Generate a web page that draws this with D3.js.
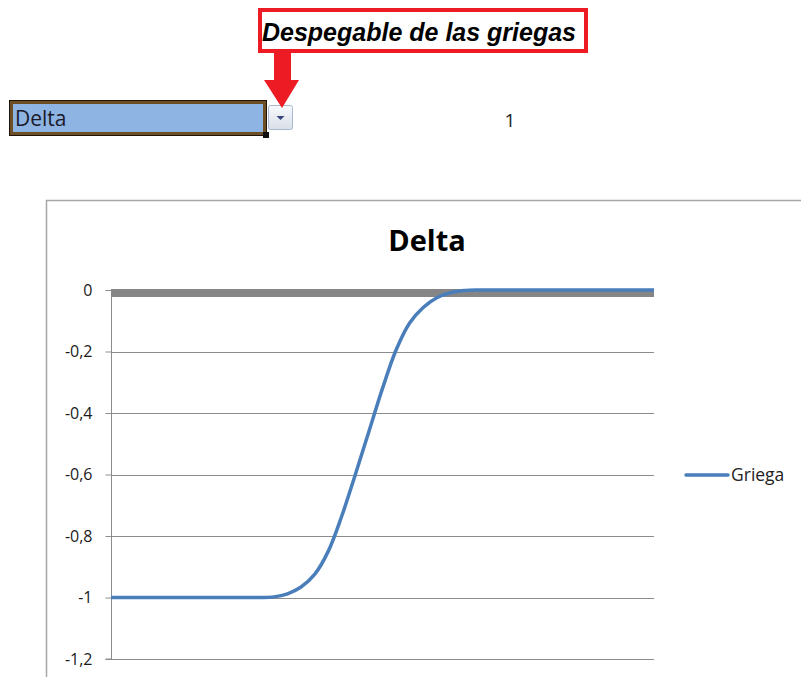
<!DOCTYPE html>
<html>
<head>
<meta charset="utf-8">
<script src="https://cdn.jsdelivr.net/npm/d3@7"></script>
<style>
  body { margin: 0; background: #fff; }
  svg { display: block; }
</style>
</head>
<body>
<svg width="801" height="677"></svg>
<script>
// precio del subyacente (eje x, no visible) y delta
let precios = [50, 52.5, 55, 57.5, 60, 62.5, 65, 67.5, 70, 72.5, 75, 77.5, 80, 82.5, 85, 87.5, 90, 92.5, 95, 97.5,
               100, 102.5, 105, 107.5, 110, 112.5, 115, 117.5, 120, 122.5, 125, 127.5, 130, 132.5, 135, 137.5, 140, 142.5, 145, 147.5, 150];
let delta = [-1, -1, -1, -1, -1, -1, -1, -1, -1, -1, -1, -1, -0.998, -0.988, -0.966, -0.925, -0.85, -0.735, -0.6, -0.46,
             -0.32, -0.195, -0.107, -0.057, -0.025, -0.009, -0.002, 0, 0, 0, 0, 0, 0, 0, 0, 0, 0, 0, 0, 0, 0];
let yTicks = [0, -0.2, -0.4, -0.6, -0.8, -1, -1.2];
let titulo = "Delta";
let serie = "Griega";
let seleccion = "Delta", indice = 1;

var svg = d3.select('svg');
var font = "'Open Sans', sans-serif";

/* ----------- despegable ----------- */

svg.append('rect').attr('x', 9.5).attr('y', 100.5).attr('width', 257).attr('height', 35)
    .attr('fill', '#8db4e2').attr('stroke', '#1e1408').attr('stroke-width', 1);
svg.append('rect').attr('x', 11.5).attr('y', 102.5).attr('width', 253).attr('height', 31)
    .attr('fill', 'none').attr('stroke', '#6e4e24').attr('stroke-width', 3);
svg.append('rect').attr('x', 263).attr('y', 132).attr('width', 6).attr('height', 6).attr('fill', '#111');
svg.append('text').attr('x', 15).attr('y', 126).attr('font-family', font).attr('font-size', 21)
    .attr('fill', '#1a1a2a').text(seleccion);

var grad = svg.append('defs').append('linearGradient').attr('id', 'btn').attr('x1', 0).attr('y1', 0).attr('x2', 0).attr('y2', 1);
grad.append('stop').attr('offset', '0%').attr('stop-color', '#f7f9fc');
grad.append('stop').attr('offset', '100%').attr('stop-color', '#d9dfe8');
svg.append('rect').attr('x', 268.5).attr('y', 105.5).attr('width', 24).attr('height', 24).attr('rx', 2)
    .attr('fill', 'url(#btn)').attr('stroke', '#a9b8cf');
svg.append('path').attr('d', 'M276.5,116 L284.5,116 L280.5,120 Z').attr('fill', '#34457a');

svg.append('text').attr('x', 510).attr('y', 127).attr('text-anchor', 'middle')
    .attr('font-family', font).attr('font-size', 19).attr('fill', '#222').text(indice);

/* ----------- rotulo y flecha ----------- */

svg.append('rect').attr('x', 260).attr('y', 10).attr('width', 326).attr('height', 41)
    .attr('fill', '#fff').attr('stroke', '#ed1c24').attr('stroke-width', 4);
svg.append('text').attr('x', 419).attr('y', 41).attr('text-anchor', 'middle')
    .attr('font-family', "'Liberation Sans', Arial, sans-serif").attr('font-size', 25)
    .attr('font-weight', 'bold').attr('font-style', 'italic').attr('fill', '#000')
    .text('Despegable de las griegas');
svg.append('path').attr('d', 'M274,53 L291,53 L291,80 L299,80 L282,108 L264,80 L274,80 Z').attr('fill', '#ed1c24');

/* ----------- grafico ----------- */

svg.append('path').attr('d', 'M46.5,677 L46.5,200.5 L801,200.5')
    .attr('fill', 'none').attr('stroke', '#a6a6a6').attr('stroke-width', 1.5);

svg.append('text').attr('x', 427).attr('y', 251).attr('text-anchor', 'middle')
    .attr('font-family', font).attr('font-size', 29).attr('font-weight', 'bold').attr('fill', '#000')
    .text(titulo);

var plot = { left: 111, right: 654, top: 290, bottom: 659 };

let x = d3.scaleLinear()
    .domain(d3.extent(precios))
    .range([plot.left, plot.right]);

let y = d3.scaleLinear()
    .domain([-1.2, 0])
    .range([plot.bottom, plot.top]);

// lineas de division
svg.append('g').selectAll('line.grid').data(yTicks.filter(d => d !== 0))
    .enter().append('line')
    .attr('class', 'grid')
    .attr('x1', plot.left).attr('x2', plot.right)
    .attr('y1', d => Math.round(y(d)) + 0.5).attr('y2', d => Math.round(y(d)) + 0.5)
    .attr('stroke', '#8c8c8c').attr('stroke-width', 1);

// eje vertical
var yAxis = svg.append('g')
    .attr('transform', 'translate(' + (plot.left + 0.5) + ',0)')
    .call(d3.axisLeft(y).tickValues(yTicks).tickSize(6).tickPadding(13)
        .tickFormat(d => d3.format('~g')(d).replace('.', ',').replace('−', '-')));
yAxis.select('.domain').attr('stroke', '#8c8c8c').attr('d', 'M-6,' + y(-1.2) + 'H0V' + y(0));
yAxis.selectAll('.tick line').attr('stroke', '#8c8c8c');
yAxis.selectAll('.tick text').attr('font-family', font).attr('font-size', 16).attr('fill', '#1a1a1a');

// eje horizontal en cero
svg.append('rect').attr('x', plot.left).attr('y', y(0) - 1)
    .attr('width', plot.right - plot.left).attr('height', 8).attr('fill', '#868686');

// serie
let line = d3.line()
    .x((d, i) => x(precios[i]))
    .y(d => y(d))
    .curve(d3.curveCatmullRom.alpha(0.5));

svg.append('path').datum(delta)
    .attr('fill', 'none')
    .attr('stroke', '#4a7ebb')
    .attr('stroke-width', 3.5)
    .attr('stroke-linejoin', 'round')
    .attr('d', line);

// leyenda
svg.append('line').attr('x1', 686).attr('x2', 728).attr('y1', 475).attr('y2', 475)
    .attr('stroke', '#4a7ebb').attr('stroke-width', 3.5).attr('stroke-linecap', 'round');
svg.append('text').attr('x', 731).attr('y', 481).attr('font-family', font).attr('font-size', 17.5)
    .attr('fill', '#222').text(serie);
</script>
</body>
</html>
